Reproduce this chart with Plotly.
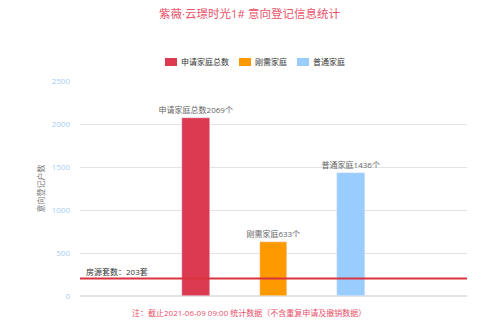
import plotly.graph_objects as go

# Data
series_names = ["申请家庭总数", "刚需家庭", "普通家庭"]
series_labels = ["申请家庭总数", "刚需家庭", "普通家庭"]
series_values = [2069, 633, 1436]
series_x = [1, 2, 3]
series_colors = ["#dc3a50", "#ff9900", "#99ccff"]
house_count = 203
y_ticks = [0, 500, 1000, 1500, 2000, 2500]

FONT = "Open Sans, Noto Sans CJK SC"
W, H = 499, 327
ML, MR, MT, MB = 80, 32, 81, 31
PW, PH = W - ML - MR, H - MT - MB

def px_x(p):
    return (p - ML) / PW

def px_y(p):
    return (H - MB - p) / PH

fig = go.Figure()
for name, lab, v, x, c in zip(series_names, series_labels, series_values, series_x, series_colors):
    fig.add_trace(go.Bar(
        x=[x], y=[v], name=name, marker_color=c, width=0.36,
        text=[f"{lab}{v}个"], textposition="outside", constraintext="none",
        textfont=dict(size=8, color="#666666", family=FONT),
        cliponaxis=False, showlegend=False,
    ))

# reference line
fig.add_shape(type="line", xref="paper", x0=0, x1=1, yref="y", y0=house_count, y1=house_count,
              line=dict(color="#d9333f", width=2))
fig.add_annotation(xref="paper", x=px_x(84), yref="y", y=house_count, text=f"房源套数：{house_count}套",
                   showarrow=False, xanchor="left", yanchor="bottom", yshift=0,
                   font=dict(size=8, color="#333333", family=FONT))

# legend (custom, compact)
legend_x = [165, 239, 297]
for name, c, lx in zip(series_names, series_colors, legend_x):
    fig.add_shape(type="rect", xref="paper", yref="paper",
                  x0=px_x(lx), x1=px_x(lx + 12), y0=px_y(66), y1=px_y(58),
                  fillcolor=c, line=dict(width=0))
    fig.add_annotation(xref="paper", yref="paper", x=px_x(lx + 14), y=px_y(62),
                       xanchor="left", yanchor="middle", text=name, showarrow=False,
                       font=dict(size=8, color="#333333", family=FONT))

fig.add_annotation(xref="paper", yref="paper", x=px_x(249), y=px_y(312), xanchor="center", yanchor="middle",
                   text="注：截止2021-06-09 09:00 统计数据（不含重复申请及撤销数据）",
                   showarrow=False, font=dict(size=8, color="#e8506a", family=FONT))

fig.update_layout(
    width=W, height=H,
    margin=dict(l=ML, r=MR, t=MT, b=MB),
    paper_bgcolor="white", plot_bgcolor="white",
    font=dict(family=FONT),
    title=dict(text="紫薇·云璟时光1# 意向登记信息统计", x=0.5, xanchor="center", y=1 - 14 / H, yanchor="middle",
               font=dict(size=11.5, color="#e9546b", family=FONT)),
    bargap=0,
    showlegend=False,
)
fig.update_xaxes(range=[-0.5, 4.5], showticklabels=False, showgrid=False, zeroline=False,
                 showline=False, ticks="")
fig.update_yaxes(range=[0, 2500], tickvals=y_ticks, showgrid=True, gridcolor="#e3e3e3",
                 zeroline=True, zerolinecolor="#e3e3e3", showline=False,
                 tickfont=dict(size=8, color="#a6cdf2", family=FONT), ticklabelstandoff=9,
                 title=dict(text="意向登记户数", font=dict(size=8, color="#777777", family=FONT), standoff=5))

fig.write_html("out.html")
